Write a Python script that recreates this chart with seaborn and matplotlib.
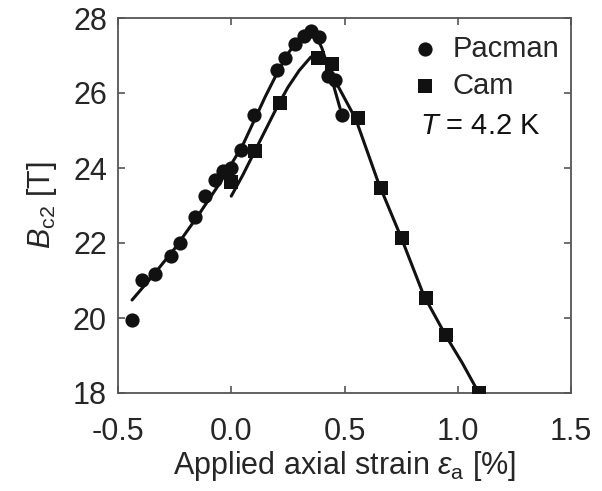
import matplotlib
matplotlib.use("Agg")
import matplotlib.pyplot as plt
import seaborn as sns
import pandas as pd

# Data points
pacman_x = [-0.438, -0.394, -0.336, -0.265, -0.226, -0.159, -0.115, -0.071, -0.035, 0.0,
            0.044, 0.102, 0.204, 0.239, 0.283, 0.319, 0.354, 0.389, 0.425, 0.456, 0.491]
pacman_b = [19.95, 21.01, 21.17, 21.65, 22.0, 22.69, 23.25, 23.68, 23.92, 24.0,
            24.48, 25.41, 26.61, 26.93, 27.31, 27.52, 27.65, 27.49, 26.45, 26.35, 25.41]

cam_x = [0.0, 0.106, 0.217, 0.385, 0.447, 0.558, 0.659, 0.752, 0.858, 0.947, 1.093]
cam_b = [23.63, 24.45, 25.73, 26.93, 26.77, 25.33, 23.47, 22.13, 20.53, 19.55, 18.0]

# Fit curves
pacman_fit_x = [-0.438, -0.35, -0.25, -0.15, -0.05, 0.05, 0.10, 0.15, 0.20, 0.25,
                0.30, 0.34, 0.37, 0.40, 0.44, 0.48]
pacman_fit_b = [20.48, 21.1, 21.85, 22.7, 23.6, 24.6, 25.25, 25.9, 26.5, 27.05,
                27.45, 27.65, 27.6, 27.2, 26.45, 25.6]

cam_fit_x = [0.0, 0.05, 0.10, 0.15, 0.20, 0.25, 0.30, 0.35, 0.38, 0.42, 0.47, 0.55,
             0.65, 0.75, 0.85, 0.95, 1.02, 1.093]
cam_fit_b = [23.25, 23.8, 24.4, 25.0, 25.6, 26.15, 26.6, 26.95, 27.05, 26.85, 26.2, 25.3,
             23.6, 22.15, 20.6, 19.5, 18.8, 18.0]

x_ticks = [-0.5, 0.0, 0.5, 1.0, 1.5]
x_tick_labels = ["-0.5", "0.0", "0.5", "1.0", "1.5"]
y_ticks = [18, 20, 22, 24, 26, 28]

sns.set_style("ticks")
plt.rcParams['font.family'] = ['Liberation Sans', 'DejaVu Sans']
plt.rcParams['mathtext.fontset'] = 'custom'
plt.rcParams['mathtext.rm'] = 'Liberation Sans'
plt.rcParams['mathtext.it'] = 'Liberation Sans:italic'

fig = plt.figure(figsize=(6.02, 4.91), dpi=100)
ax = fig.add_axes([118 / 602, 1 - 393 / 491, 453 / 602, 375 / 491])

pf = pd.DataFrame({"x": pacman_fit_x, "b": pacman_fit_b})
cf = pd.DataFrame({"x": cam_fit_x, "b": cam_fit_b})
sns.lineplot(data=pf, x="x", y="b", sort=False, color="#111111", lw=2.2, ax=ax)
sns.lineplot(data=cf, x="x", y="b", sort=False, color="#111111", lw=2.2, ax=ax)

pdp = pd.DataFrame({"x": pacman_x, "b": pacman_b})
cdp = pd.DataFrame({"x": cam_x, "b": cam_b})
sns.scatterplot(data=pdp, x="x", y="b", marker="o", s=105, color="#111111",
                edgecolor="#111111", linewidth=0, ax=ax, label="Pacman", zorder=3)
sns.scatterplot(data=cdp, x="x", y="b", marker="s", s=115, color="#111111",
                edgecolor="#111111", linewidth=0, ax=ax, label="Cam", zorder=3)

ax.set_xlim(-0.5, 1.5)
ax.set_ylim(18, 28)
ax.set_xticks(x_ticks)
ax.set_xticklabels(x_tick_labels)
ax.set_yticks(y_ticks)
ax.tick_params(direction="in", length=5, width=1.2, color="#555555",
               labelsize=22, top=True, right=True)
ax.tick_params(axis="x", pad=17)
ax.tick_params(axis="y", pad=8)
for s in ax.spines.values():
    s.set_color("#555555")
    s.set_linewidth(1.3)
    s.set_visible(True)

ax.set_xlabel(r"Applied axial strain $\varepsilon_{\mathrm{a}}$ [%]", fontsize=22, labelpad=2)
ax.set_ylabel(r"$B_{\mathrm{c2}}$ [T]", fontsize=22, labelpad=10)

leg = ax.legend(loc="upper left", frameon=False, fontsize=21, handletextpad=0.45,
                borderpad=0, borderaxespad=0, labelspacing=0.3, handlelength=1.0,
                bbox_to_anchor=(0.645, 0.955))
ax.text(0.667, 0.712, r"$T$ = 4.2 K", transform=ax.transAxes, fontsize=21,
        ha="left", va="center", color="#111111")

fig.savefig("out.png", dpi=100)
